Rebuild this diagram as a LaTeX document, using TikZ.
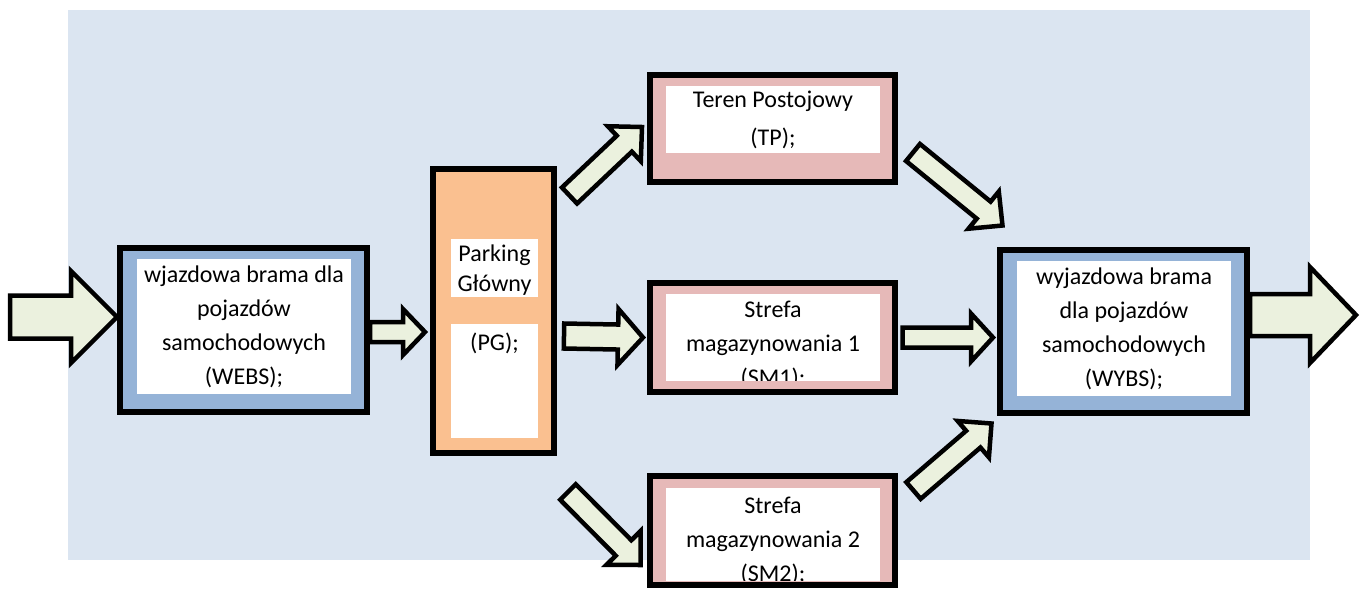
\documentclass[tikz,border=0pt]{standalone}
\usepackage{fontspec}
\setmainfont{Carlito}
\usetikzlibrary{calc}

\definecolor{tlo}{RGB}{219,229,241}
\definecolor{brama}{RGB}{149,179,215}
\definecolor{parking}{RGB}{250,192,144}
\definecolor{strefa}{RGB}{230,185,184}
\definecolor{strzalka}{RGB}{235,241,222}

% block arrow: {tail}{tip}{half shaft}{half head}{head length}
\newcommand{\blockarrow}[5]{%
  \draw[arrowbody] let \p1=($(#2)-(#1)$), \n1={atan2(\y1,\x1)}, \n2={veclen(\x1,\y1)} in
    ($(#1)+(\n1-90:#3)$) -- ($(#1)+(\n1:\n2-#5)+(\n1-90:#3)$)
    -- ($(#1)+(\n1:\n2-#5)+(\n1-90:#4)$) -- (#2)
    -- ($(#1)+(\n1:\n2-#5)+(\n1+90:#4)$) -- ($(#1)+(\n1:\n2-#5)+(\n1+90:#3)$)
    -- ($(#1)+(\n1+90:#3)$) -- cycle;}

\begin{document}
\begin{tikzpicture}[
    x=1pt, y=1pt,
    box/.style={rectangle, draw, line width=6pt, inner sep=0pt},
    okno/.style={rectangle, fill=white, inner sep=0pt, align=center, font=\fontsize{24}{34}\selectfont},
    napis/.style={inner sep=0pt, align=center, font=\fontsize{24}{34}\selectfont},
    arrowbody/.style={draw, line width=4.5pt, fill=strzalka, line join=miter}
]

\useasboundingbox (0,0) rectangle (1362,-590);

% Background
\fill[tlo] (68,-10) rectangle (1310,-560);

% Entry gate
\node[box, fill=brama, minimum width=247, minimum height=164] (webs) at (243.5,-330) {};
\node[okno, minimum width=214, minimum height=135] (websin) at (244,-326.5) {wjazdowa brama dla\\pojazdów\\samochodowych\\(WEBS);};

% Main parking
\node[box, fill=parking, minimum width=121, minimum height=284] (pg) at (493.5,-311) {};
\node[okno, minimum width=87, minimum height=58] (pgin) at (494.5,-268) {};
\node[napis] (pgnazwa) at ([yshift=-2]pgin) {Parking\\[-4pt]Główny};
\node[okno, minimum width=87, minimum height=114, anchor=north] (pgdol) at (494.5,-324) {};
\node[napis] (pgskrot) at ([yshift=-19]pgdol.north) {(PG);};

% Parking area
\node[box, fill=strefa, minimum width=245, minimum height=107] (tp) at (772.5,-128.5) {};
\node[okno, minimum width=214, minimum height=67] (tpin) at (773,-119.5) {Teren Postojowy\\[4pt](TP);};

% Storage zones
\node[box, fill=strefa, minimum width=245, minimum height=109] (sm1) at (772.5,-337.5) {};
\begin{scope}
\clip (666,-294) rectangle (880,-380);
\node[okno, minimum width=214, minimum height=120] (sm1in) at (773,-345) {Strefa\\magazynowania 1\\(SM1);};
\end{scope}

\node[box, fill=strefa, minimum width=245, minimum height=109] (sm2) at (772.5,-530.5) {};
\begin{scope}
\clip (666,-488) rectangle (880,-580);
\node[okno, minimum width=214, minimum height=120] (sm2in) at (773,-541) {Strefa\\magazynowania 2\\(SM2);};
\end{scope}

% Exit gate
\node[box, fill=brama, minimum width=247, minimum height=163] (wybs) at (1123.5,-331.5) {};
\node[okno, minimum width=214, minimum height=135] (wybsin) at (1124,-328.5) {wyjazdowa brama\\dla pojazdów\\samochodowych\\(WYBS);};

% Arrows
\coordinate (wjazd) at (10,-317);
\coordinate (wyjazd) at (1356,-315);
\coordinate (dojazd) at (568,-492);

\blockarrow{wjazd}{webs.west |- wjazd}{21.5}{46}{46}
\blockarrow{[yshift=-2]webs.east}{[xshift=-5,yshift=-21]pg.west}{10}{23}{22}
\blockarrow{[shift={(7,-25)}]pg.east}{[xshift=-4]sm1.west}{12.5}{28}{25}
\blockarrow{[shift={(12.5,-29.5)}]pg.north east}{[shift={(-5,1.5)}]tp.west}{11}{24}{24}
\blockarrow{[shift={(15,-24)}]tp.east}{[shift={(5.5,21.5)}]wybs.north west}{11}{24}{24}
\blockarrow{[xshift=4.5]sm1.east}{[xshift=-4,yshift=-6]wybs.west}{10}{24}{22}
\blockarrow{[shift={(15.5,-17.5)}]sm2.north east}{[shift={(-5.5,-7.5)}]wybs.south west}{11}{24}{24}
\blockarrow{dojazd}{[shift={(-6.5,-34.5)}]sm2.west}{11}{24}{24}
\blockarrow{wybs.east |- wyjazd}{wyjazd}{21}{48}{46}

\end{tikzpicture}
\end{document}
